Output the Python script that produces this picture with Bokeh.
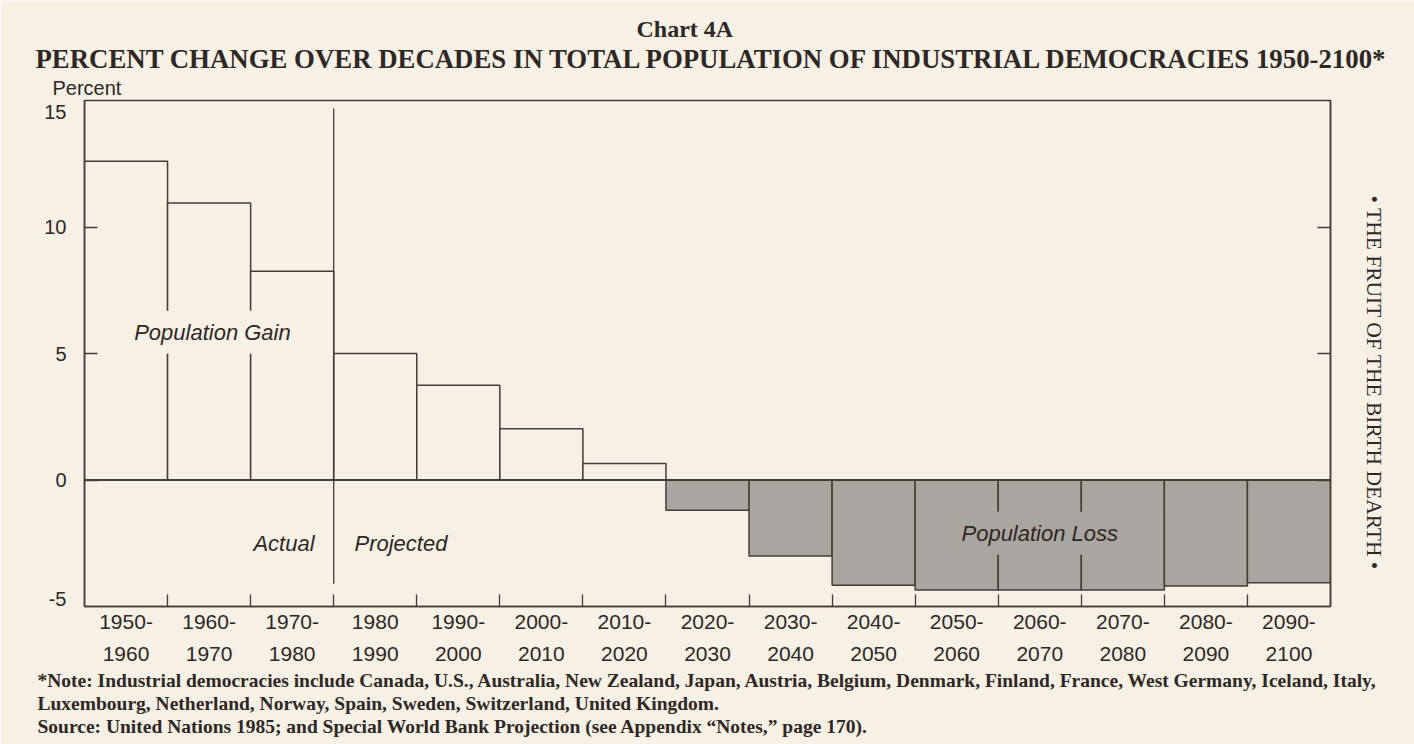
import math
from bokeh.plotting import figure
from bokeh.models import Label, Span, FixedTicker, LinearAxis, Range1d, ColumnDataSource, Title
from bokeh.embed import file_html
from bokeh.resources import INLINE

# ---- data ----
decades = ["1950-\n1960", "1960-\n1970", "1970-\n1980", "1980\n1990", "1990-\n2000",
           "2000-\n2010", "2010-\n2020", "2020-\n2030", "2030-\n2040", "2040-\n2050",
           "2050-\n2060", "2060-\n2070", "2070-\n2080", "2080-\n2090", "2090-\n2100"]
pct_change = [12.6, 10.95, 8.25, 5.0, 3.75, 2.03, 0.65, -1.2, -3.0, -4.16,
              -4.35, -4.35, -4.35, -4.19, -4.06]
y_ticks = [-5, 0, 5, 10, 15]
y_tick_labels = ["-5", "0", "5", "10", "15"]
n_actual = 3  # decades of actual data (1950-1980)

title_top = "Chart 4A"
title_main = "PERCENT CHANGE OVER DECADES  IN TOTAL  POPULATION OF INDUSTRIAL DEMOCRACIES 1950-2100*"
side_text = "\u2022  THE FRUIT OF THE BIRTH DEARTH  \u2022"
notes = ("*Note: Industrial democracies include Canada, U.S., Australia, New Zealand, Japan, Austria, "
         "Belgium, Denmark, Finland, France, West Germany, Iceland, Italy,\n"
         "Luxembourg, Netherland, Norway, Spain, Sweden, Switzerland, United Kingdom.\n"
         "Source: United Nations 1985; and Special World Bank Projection "
         "(see Appendix \u201cNotes,\u201d page 170).")

BG = "#f6f0e5"
INK = "#463c37"
GRAY = "#a9a5a0"
TXT = "#2f2724"
SERIF = "Liberation Serif"
SANS = "Liberation Sans"

W, H = 1414, 744
FL, FR, FT, FB = 84, 1330, 100, 606          # frame edges on the page (px)
PX_PER_UNIT = (FB - FT) / (y_ticks[-1] - y_ticks[0])

n = len(decades)
centers = [i + 0.5 for i in range(n)]
bounds = [float(i) for i in range(1, n)]

# end tick labels sit just inside the frame, as in the original
label_pos = list(map(float, y_ticks))
label_pos[0] += 8 / PX_PER_UNIT
label_pos[-1] -= 11 / PX_PER_UNIT
inner_ticks = [float(t) for t in y_ticks[1:-1]]

src = ColumnDataSource(dict(
    x=centers, top=[max(v, 0) for v in pct_change], bottom=[min(v, 0) for v in pct_change],
    fill=[BG if v >= 0 else GRAY for v in pct_change]))

p = figure(width=W, height=H, x_range=Range1d(0, n), y_range=Range1d(y_ticks[0], y_ticks[-1]),
           output_backend="svg", toolbar_location=None, title_location=None,
           min_border_left=FL, min_border_right=W - FR, min_border_top=FT, min_border_bottom=H - FB,
           background_fill_color=BG, border_fill_color=BG,
           outline_line_color=INK, outline_line_width=1.5)
p.grid.visible = False

p.vbar(x="x", top="top", bottom="bottom", width=1.0, fill_color="fill",
       line_color=INK, line_width=1.5, source=src)

p.add_layout(Span(location=0, dimension="width", line_color=INK, line_width=2.2))
p.segment(x0=[n_actual], y0=[-4.1], x1=[n_actual], y1=[14.68], line_color=INK, line_width=1.3)

# x axis
xa = p.xaxis[0]
xa.ticker = FixedTicker(ticks=centers, minor_ticks=bounds)
xa.major_label_overrides = {c: lab for c, lab in zip(centers, decades)}
xa.major_tick_line_color = None
xa.minor_tick_in = 12
xa.minor_tick_out = 0
xa.minor_tick_line_color = INK
xa.minor_tick_line_width = 1.3
xa.axis_line_color = INK
xa.axis_line_width = 1.5
xa.major_label_text_font = SANS
xa.major_label_text_font_size = "21px"
xa.major_label_text_color = TXT
xa.major_label_text_line_height = 1.4
xa.major_label_standoff = -3

# y axes
ya = p.yaxis[0]
ya.ticker = FixedTicker(ticks=label_pos, minor_ticks=inner_ticks)
ya.major_label_overrides = {t: s for t, s in zip(label_pos, y_tick_labels)}
ya.major_tick_line_color = None
ya.minor_tick_in = 13
ya.minor_tick_out = 0
ya.minor_tick_line_color = INK
ya.minor_tick_line_width = 1.3
ya.axis_line_color = INK
ya.axis_line_width = 1.5
ya.major_label_text_font = SANS
ya.major_label_text_font_size = "20px"
ya.major_label_text_color = TXT
ya.major_label_standoff = 12

ra = LinearAxis(ticker=FixedTicker(ticks=label_pos, minor_ticks=inner_ticks),
                major_label_overrides={t: "" for t in label_pos},
                major_tick_line_color=None, minor_tick_in=13, minor_tick_out=0,
                minor_tick_line_color=INK, minor_tick_line_width=1.3,
                axis_line_color=INK, axis_line_width=1.5)
p.add_layout(ra, "right")

# titles above (stacked outward from the frame)
p.add_layout(Title(text="Percent", align="left", offset=-32, standoff=3, text_font=SANS,
                   text_font_size="20px", text_font_style="normal", text_color=TXT), "above")
p.add_layout(Title(text=title_main, align="left", offset=-49, standoff=0, text_font=SERIF,
                   text_font_size="26.8px", text_font_style="bold", text_color=TXT), "above")
p.add_layout(Title(text=title_top, align="left", offset=552, standoff=0, text_font=SERIF,
                   text_font_size="24px", text_font_style="bold", text_color=TXT), "above")

# footnotes below the axis
p.add_layout(Title(text=notes, align="left", offset=-47, standoff=2, text_font=SERIF,
                   text_font_size="19.5px", text_font_style="bold", text_color=TXT,
                   text_line_height=1.1), "below")

# side running head
p.add_layout(Title(text=side_text, align="left", offset=95, standoff=51, text_font=SERIF,
                   text_font_size="21.5px", text_font_style="normal", text_color=TXT), "right")


def lab(x, y, text, **kw):
    opts = dict(text_color=TXT, text_baseline="middle", text_font=SANS,
                text_font_style="italic", text_font_size="22px")
    opts.update(kw)
    p.add_layout(Label(x=x, y=y, text=text, **opts))


lab(1.54, 5.84, "Population Gain", text_align="center", background_fill_color=BG, padding=9)
lab(2.77, -2.51, "Actual", text_align="right")
lab(3.25, -2.51, "Projected", text_align="left")
lab(11.5, -2.1, "Population Loss", text_align="center", background_fill_color=GRAY, padding=9)

open("out.html", "w").write(file_html(p, INLINE))
